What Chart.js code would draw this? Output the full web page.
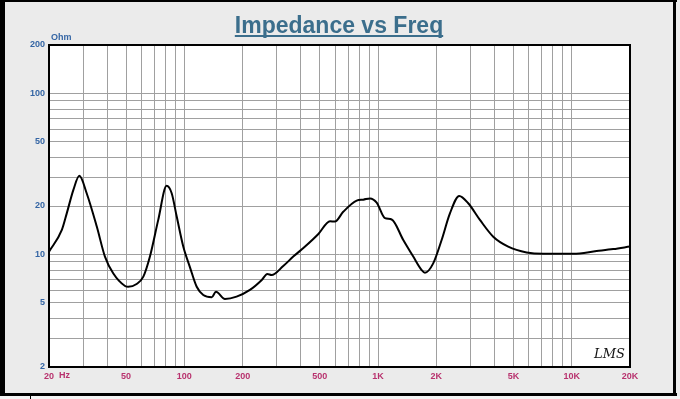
<!DOCTYPE html>
<html>
<head>
<meta charset="utf-8">
<script src="https://cdn.jsdelivr.net/npm/chart.js@4.4.0/dist/chart.umd.min.js"></script>
<style>
  html, body { margin: 0; padding: 0; background: #ebebeb; }
  canvas { display: block; }
</style>
</head>
<body>
<canvas id="impChart" width="680" height="399"></canvas>
<script>
const freqHz = [20, 23.3, 24.7, 26.7, 28.7, 31.3, 35.3, 38.9, 42.9, 49.4,
    51.3, 56.7, 61.4, 66.4, 73.3, 81, 86, 91.3, 98.7, 106.9,
    115.8, 125.2, 138.4, 145.6, 162, 186, 218, 251, 268, 282,
    324, 365, 420, 492, 565, 599, 661, 776, 839, 909,
    984, 1086, 1176, 1350, 1520, 1680, 1747, 1927, 2130, 2351,
    2626, 2922, 3358, 3934, 4700, 5851, 7128, 10184, 13445, 16381, 20000];
const impedanceOhm = [10.4, 14.2, 18, 25.1, 30.8, 24, 14.9, 9.7, 7.64, 6.37,
    6.3, 6.55, 7.28, 9.7, 16.4, 26.7, 24, 17.2, 11.2, 8.32,
    6.3, 5.6, 5.42, 5.87, 5.29, 5.47, 6.02, 6.94, 7.56, 7.45,
    8.48, 9.7, 11.2, 13.4, 16.1, 16, 18.4, 21.6, 21.9, 22.3,
    21, 16.8, 16.5, 12.3, 9.7, 8, 7.7, 8.8, 12.3, 18,
    23.1, 20.8, 16.4, 12.9, 11.2, 10.3, 10.1, 10.1, 10.5, 10.8, 11.2];

// grid lines and tick labels
const xGrid = [20, 30, 40, 50, 60, 70, 80, 90, 100, 200, 300, 400, 500, 600, 700, 800, 900,
    1000, 2000, 3000, 4000, 5000, 6000, 7000, 8000, 9000, 10000, 20000];
const xLabels = {20: '20', 50: '50', 100: '100', 200: '200', 500: '500', 1000: '1K',
    2000: '2K', 5000: '5K', 10000: '10K', 20000: '20K'};
const yGrid = [2, 3, 4, 5, 6, 7, 8, 9, 10, 20, 30, 40, 50, 60, 70, 80, 90, 100, 200];
const yLabels = [2, 5, 10, 20, 50, 100, 200];

const points = freqHz.map((f, i) => ({ x: f, y: impedanceOhm[i] }));

const frame = {
    id: 'frame',
    beforeDraw(chart) {
        const c = chart.ctx, a = chart.chartArea;
        c.save();
        c.fillStyle = '#ebebeb';
        c.fillRect(0, 0, 680, 399);
        c.fillStyle = '#000';
        c.fillRect(0, 0, 5, 397);
        c.fillRect(0, 0, 677, 2);
        c.fillRect(673, 0, 3, 397);
        c.fillRect(0, 393, 677, 3);
        c.fillStyle = '#f4f4f4';
        c.fillRect(0, 396, 680, 3);
        c.fillStyle = '#000';
        c.fillRect(30, 396, 1, 3);
        c.fillStyle = '#fff';
        c.fillRect(a.left, a.top, a.right - a.left, a.bottom - a.top);
        c.restore();
    },
    afterDraw(chart) {
        const c = chart.ctx, a = chart.chartArea;
        c.save();
        c.strokeStyle = '#000';
        c.lineWidth = 2;
        c.strokeRect(a.left, a.top, a.right - a.left, a.bottom - a.top);

        // title with underline
        c.fillStyle = '#3b6e8c';
        c.font = 'bold 23px "Liberation Sans", Arial, sans-serif';
        c.textAlign = 'center';
        c.textBaseline = 'alphabetic';
        const title = 'Impedance vs Freq';
        c.fillText(title, 339, 33);
        const w = c.measureText(title).width;
        c.fillRect(339 - w / 2, 35, w, 2);

        c.font = 'bold 9px "Liberation Sans", Arial, sans-serif';
        c.textAlign = 'left';
        c.textBaseline = 'middle';
        c.fillStyle = '#3465a4';
        c.fillText('Ohm', 51, 38);
        c.fillStyle = '#b8326e';
        c.fillText('Hz', 59, 376);

        c.fillStyle = '#111';
        c.font = 'italic 13px "DejaVu Serif", serif';
        c.fillText('LMS', 594, 355);
        c.restore();
    }
};

const ctx = document.getElementById('impChart').getContext('2d');
new Chart(ctx, {
    type: 'line',
    data: {
        datasets: [{
            data: points,
            borderColor: '#000',
            borderWidth: 2,
            pointRadius: 0,
            cubicInterpolationMode: 'monotone',
            fill: false
        }]
    },
    options: {
        responsive: false,
        animation: false,
        devicePixelRatio: 1,
        layout: { padding: { top: 45, right: 50, left: 0, bottom: 0 } },
        plugins: { legend: { display: false }, tooltip: { enabled: false } },
        scales: {
            x: {
                type: 'logarithmic',
                min: 20,
                max: 20000,
                afterFit: s => { s.height = 32; },
                afterBuildTicks: s => { s.ticks = xGrid.map(v => ({ value: v })); },
                grid: { color: '#a0a0a0', lineWidth: 1, drawTicks: false },
                border: { display: false },
                ticks: {
                    autoSkip: false,
                    maxRotation: 0,
                    padding: 4,
                    color: '#b8326e',
                    font: { family: '"Liberation Sans", Arial, sans-serif', size: 9, weight: 'bold' },
                    callback: v => xLabels[v] || ''
                }
            },
            y: {
                type: 'logarithmic',
                min: 2,
                max: 200,
                afterFit: s => { s.width = 49; },
                afterBuildTicks: s => { s.ticks = yGrid.map(v => ({ value: v })); },
                grid: { color: '#a0a0a0', lineWidth: 1, drawTicks: false },
                border: { display: false },
                ticks: {
                    autoSkip: false,
                    padding: 4,
                    color: '#3465a4',
                    font: { family: '"Liberation Sans", Arial, sans-serif', size: 9, weight: 'bold' },
                    callback: v => yLabels.includes(v) ? String(v) : ''
                }
            }
        }
    },
    plugins: [frame]
});
</script>
</body>
</html>
